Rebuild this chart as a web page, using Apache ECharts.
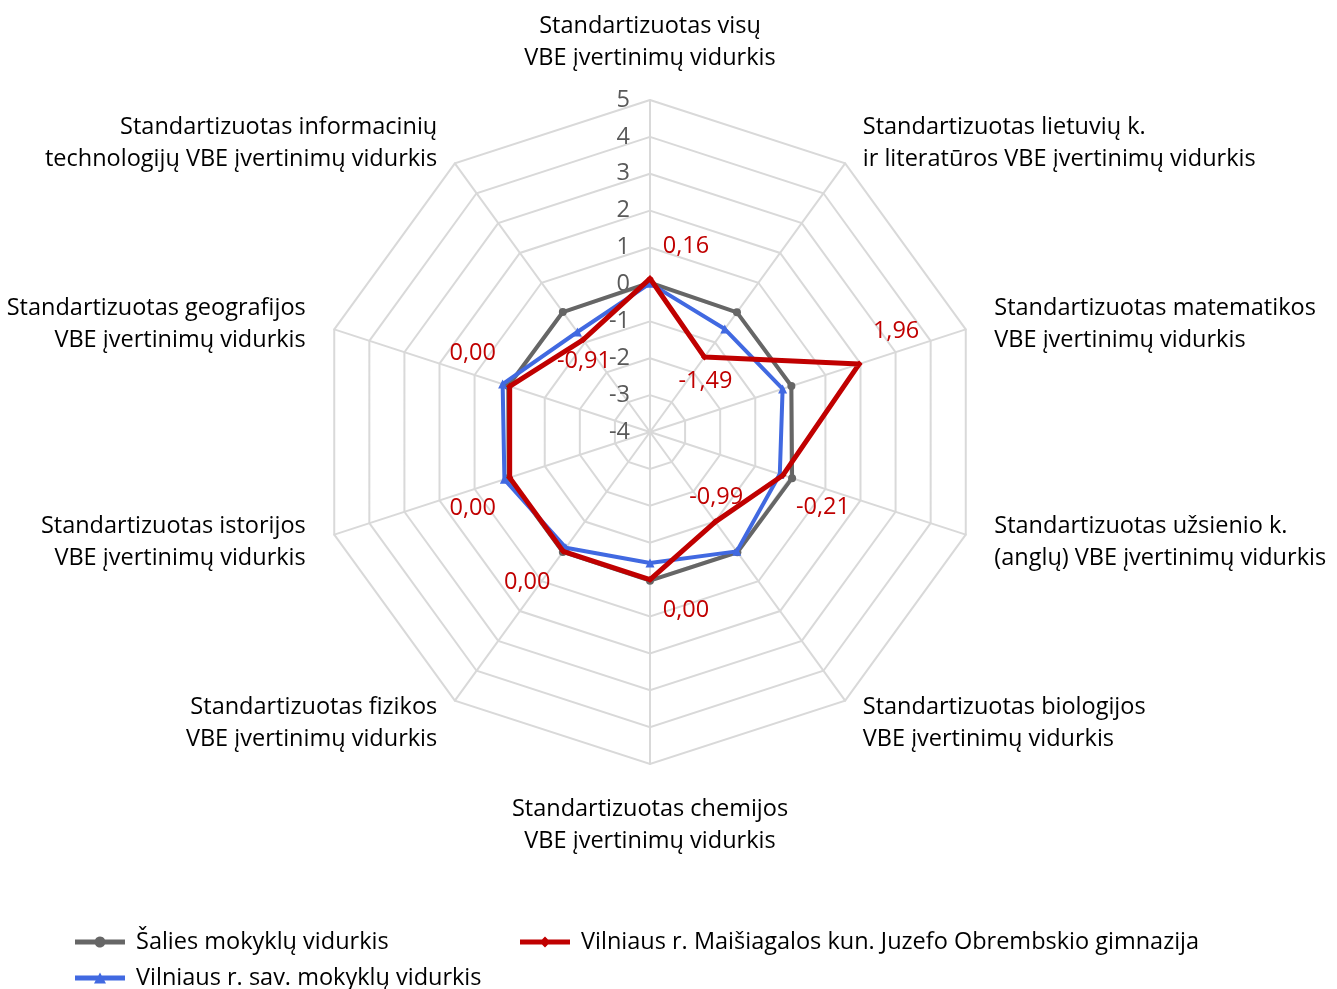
<!DOCTYPE html>
<html>
<head>
<meta charset="utf-8">
<script src="https://cdn.jsdelivr.net/npm/echarts@6/dist/echarts.min.js"></script>
<style>
  html, body { margin: 0; padding: 0; background: #fff; }
  #chart { width: 1337px; height: 989px; }
</style>
</head>
<body>
<div id="chart"></div>
<script>
// indicators in clockwise order, starting at the top
const categories = [
  'Standartizuotas visų\nVBE įvertinimų vidurkis',
  'Standartizuotas lietuvių k.\nir literatūros VBE įvertinimų vidurkis',
  'Standartizuotas matematikos\nVBE įvertinimų vidurkis',
  'Standartizuotas užsienio k.\n(anglų) VBE įvertinimų vidurkis',
  'Standartizuotas biologijos\nVBE įvertinimų vidurkis',
  'Standartizuotas chemijos\nVBE įvertinimų vidurkis',
  'Standartizuotas fizikos\nVBE įvertinimų vidurkis',
  'Standartizuotas istorijos\nVBE įvertinimų vidurkis',
  'Standartizuotas geografijos\nVBE įvertinimų vidurkis',
  'Standartizuotas informacinių\ntechnologijų VBE įvertinimų vidurkis'
];

const nameCountry = 'Šalies mokyklų vidurkis';
const nameSchool = 'Vilniaus r. Maišiagalos kun. Juzefo Obrembskio gimnazija';
const nameMunicipality = 'Vilniaus r. sav. mokyklų vidurkis';

const countryValues = [0.05, 0.01, 0.03, 0.05, 0.03, 0.03, 0.02, 0.03, 0.04, 0.02];
const municipalityValues = [0.03, -0.55, -0.22, -0.3, 0.0, -0.45, -0.12, 0.15, 0.2, -0.65];
const schoolValues = [0.16, -1.49, 1.96, -0.21, -0.99, 0.0, 0.0, 0.0, 0.0, -0.91];

const axisMin = -4;
const axisMax = 5;

// where each red value label sits relative to its point (px)
const labelOffsets = [
  [36, -32], [1, 24], [37, -33], [40, 32], [1, -25],
  [36, 31], [-36, 31], [-37, 31], [-37, -33], [1, 22]
];

const fontFamily = '"Open Sans", sans-serif';
const fontSize = 23.5;
const colorCountry = '#666666';
const colorMunicipality = '#4169E1';
const colorSchool = '#C00000';

// echarts lays indicators out counter-clockwise, so flip everything after the first
function toRadarOrder(arr) {
  return [arr[0]].concat(arr.slice(1).reverse());
}

function formatValue(v) {
  if (v == null || isNaN(v)) {
    return '';
  }
  return v.toFixed(2).replace('.', ',');
}

// names on the upper sides sit a bit lower, those on the lower sides a bit higher
const upperSideNames = [categories[1], categories[2], categories[8], categories[9]];
const lowerSideNames = [categories[3], categories[4], categories[6], categories[7]];

function nameFormatter(name) {
  if (upperSideNames.indexOf(name) >= 0) {
    return '{up|\u200b}\n' + name;
  }
  if (lowerSideNames.indexOf(name) >= 0) {
    return name + '\n{down|\u200b}';
  }
  return name;
}

const radarNames = toRadarOrder(categories);
const indicators = radarNames.map((name, i) => {
  const ind = { name: name, min: axisMin, max: axisMax };
  // only the top spoke carries the scale labels
  if (i === 0) {
    ind.axisLabel = { show: true };
    ind.nameGap = 26;
  }
  // bottom spoke (chemijos) sits opposite the top one
  if (i === radarNames.length / 2) {
    ind.nameGap = 29;
  }
  return ind;
});

function mainSeries(name, values, color, symbol, symbolSize, width, z) {
  return {
    type: 'radar',
    name: name,
    z: z,
    symbol: symbol,
    symbolSize: symbolSize,
    color: color,
    itemStyle: { color: color, borderWidth: 0 },
    lineStyle: { color: color, width: width },
    label: { show: false },
    data: [{ name: name, value: toRadarOrder(values) }]
  };
}

// one invisible copy of the school series per label, so each label gets its own spot
const labelSeries = schoolValues.map((v, i) => {
  const masked = schoolValues.map((val, j) => (j === i ? val : null));
  return {
    type: 'radar',
    name: 'lbl-' + i,
    z: 10,
    silent: true,
    symbol: 'circle',
    symbolSize: 2,
    itemStyle: { color: 'rgba(0,0,0,0)', borderWidth: 0 },
    lineStyle: { width: 0, opacity: 0 },
    label: {
      show: true,
      position: 'inside',
      offset: labelOffsets[i],
      color: colorSchool,
      fontSize: fontSize,
      fontFamily: fontFamily,
      formatter: (p) => formatValue(p.value)
    },
    data: [{ name: 'lbl-' + i, value: toRadarOrder(masked) }]
  };
});

const legendIcons = {
  circle: 'path://M0,3.5H20.1A5.5,5.5 0 0,1 29.9,3.5H50V8.5H29.9A5.5,5.5 0 0,1 20.1,8.5H0Z',
  triangle: 'path://M0,3.5H23.36L25,0.5L26.64,3.5H50V8.5H29.36L31,11.5H19L20.64,8.5H0Z',
  diamond: 'path://M0,3.5H22L25,0.5L28,3.5H50V8.5H28L25,11.5L22,8.5H0Z'
};

function legendFor(name, icon, left, top) {
  return {
    data: [{ name: name, icon: icon }],
    left: left,
    top: top,
    itemWidth: 50,
    itemHeight: 11,
    selectedMode: false,
    itemStyle: { borderWidth: 0 },
    textStyle: {
      color: '#000',
      fontSize: fontSize,
      fontFamily: fontFamily,
      padding: [0, 0, 0, 6]
    }
  };
}

const option = {
  animation: false,
  backgroundColor: '#fff',
  legend: [
    legendFor(nameCountry, legendIcons.circle, 70, 925),
    legendFor(nameSchool, legendIcons.diamond, 515, 925),
    legendFor(nameMunicipality, legendIcons.triangle, 70, 961)
  ],
  radar: {
    center: [650, 432],
    radius: 332,
    shape: 'polygon',
    splitNumber: 9,
    nameGap: 30,
    indicator: indicators,
    axisName: {
      color: '#000',
      fontSize: fontSize,
      lineHeight: 32,
      fontFamily: fontFamily,
      formatter: nameFormatter,
      rich: {
        up: { fontSize: 1, lineHeight: 8 },
        down: { fontSize: 1, lineHeight: 4 }
      }
    },
    axisLabel: {
      show: false,
      color: '#595959',
      fontSize: fontSize,
      fontFamily: fontFamily,
      margin: 20,
      formatter: (v) => String(v)
    },
    axisTick: { show: false },
    axisLine: { lineStyle: { color: '#D9D9D9', width: 2 } },
    splitLine: { lineStyle: { color: '#D9D9D9', width: 2 } },
    splitArea: { show: false }
  },
  series: [
    mainSeries(nameCountry, countryValues, colorCountry, 'circle', 8, 4, 2),
    mainSeries(nameMunicipality, municipalityValues, colorMunicipality, 'triangle', 9, 4, 3),
    mainSeries(nameSchool, schoolValues, colorSchool, 'diamond', 7, 5, 4)
  ].concat(labelSeries)
};

const myChart = echarts.init(document.getElementById('chart'));
myChart.setOption(option);
</script>
</body>
</html>
